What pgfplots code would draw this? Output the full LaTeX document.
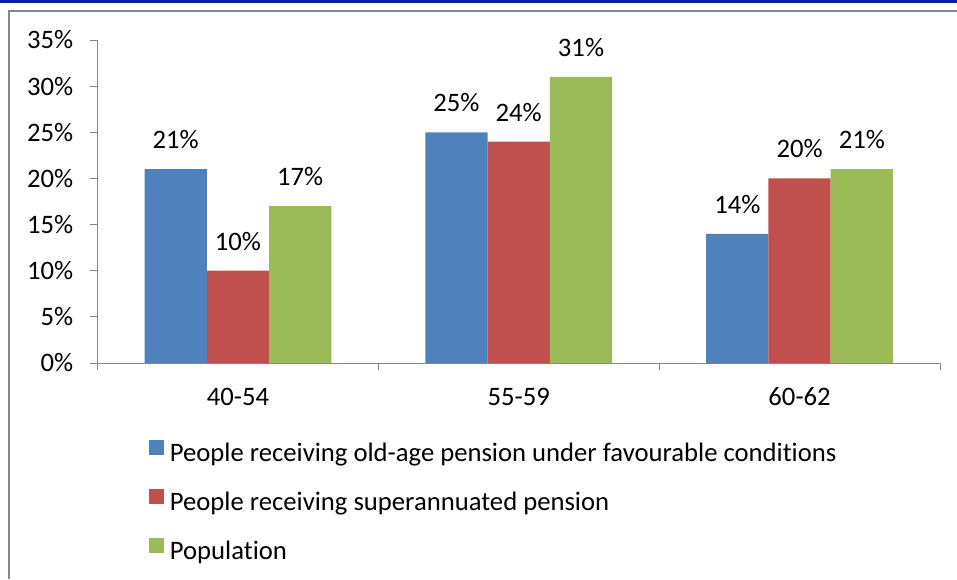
\documentclass[border=0pt]{standalone}
\usepackage{pgfplots}
\pgfplotsset{compat=1.18}
\usepackage{fontspec}
\setmainfont{Carlito}[Ligatures={NoCommon}]
\definecolor{axisgray}{HTML}{868686}
\definecolor{cblue}{HTML}{4F81BD}
\definecolor{cred}{HTML}{C0504D}
\definecolor{cgreen}{HTML}{9BBB59}
\definecolor{band}{HTML}{06259A}
\begin{document}
\fontsize{20pt}{24pt}\selectfont
\begin{tikzpicture}
\path[use as bounding box,fill=white] (0,0) rectangle (717.75pt,434.25pt);
\fill[band] (0,432pt) rectangle (717.75pt,434.25pt);
\draw[axisgray,line width=1.1pt] (6.75pt,0) -- (6.75pt,426pt) -- (717.75pt,426pt);
\begin{axis}[
  at={(73.125pt,162pt)}, anchor=south west,
  width=631.875pt, height=242.25pt, scale only axis,
  ybar, bar width=46.7pt,
  xmin=-0.5, xmax=2.5, ymin=0, ymax=35,
  clip=false,
  axis x line*=bottom, axis y line*=left,
  axis line style={draw=axisgray, line width=0.75pt},
  tick align=outside,
  xtick={-0.5,0.5,1.5,2.5}, xticklabels={},
  major tick length=5.5pt,
  tick style={draw=axisgray, line width=0.75pt},
  extra x ticks={0,1,2}, extra x tick labels={40-54,55-59,60-62},
  extra x tick style={major tick length=0pt, tick style={draw=none}},
  xticklabel style={anchor=north, inner sep=0pt, yshift=-18.5pt},
  ytick={0,5,...,35},
  yticklabels={0\%,5\%,10\%,15\%,20\%,25\%,30\%,35\%},
  yticklabel style={anchor=east, inner sep=0pt, xshift=-12.5pt},
  ticklabel style={font=\fontsize{20pt}{24pt}\selectfont},
  /pgf/number format/assume math mode=true,
  nodes near coords={\pgfmathprintnumber{\pgfplotspointmeta}\%},
  every node near coord/.append style={anchor=south, inner sep=0pt, yshift=15pt, font=\fontsize{20pt}{24pt}\selectfont, text=black},
  legend style={draw=none, fill=none, inner sep=0pt,
    at={(axis description cs:0.0611,-0.2384)}, anchor=north west,
    font=\fontsize{20pt}{24pt}\selectfont,
    nodes={inner sep=0pt, text height=14pt, text depth=4pt},
    row sep=16.5pt},
  legend cell align=left,
  legend image code/.code={\fill[#1] (0pt,0pt) rectangle (11.25pt,11.25pt); \path (15.5pt,0pt);},
]
\addplot[fill=cblue, draw=none, bar shift=-46.7pt] coordinates {(0,21) (1,25) (2,14)};
\addplot[fill=cred, draw=none, bar shift=0pt] coordinates {(0,10) (1,24) (2,20)};
\addplot[fill=cgreen, draw=none, bar shift=46.7pt] coordinates {(0,17) (1,31) (2,21)};
\legend{People receiving old-age pension under favourable conditions, People receiving superannuated pension, Population}
\end{axis}
\end{tikzpicture}
\end{document}
